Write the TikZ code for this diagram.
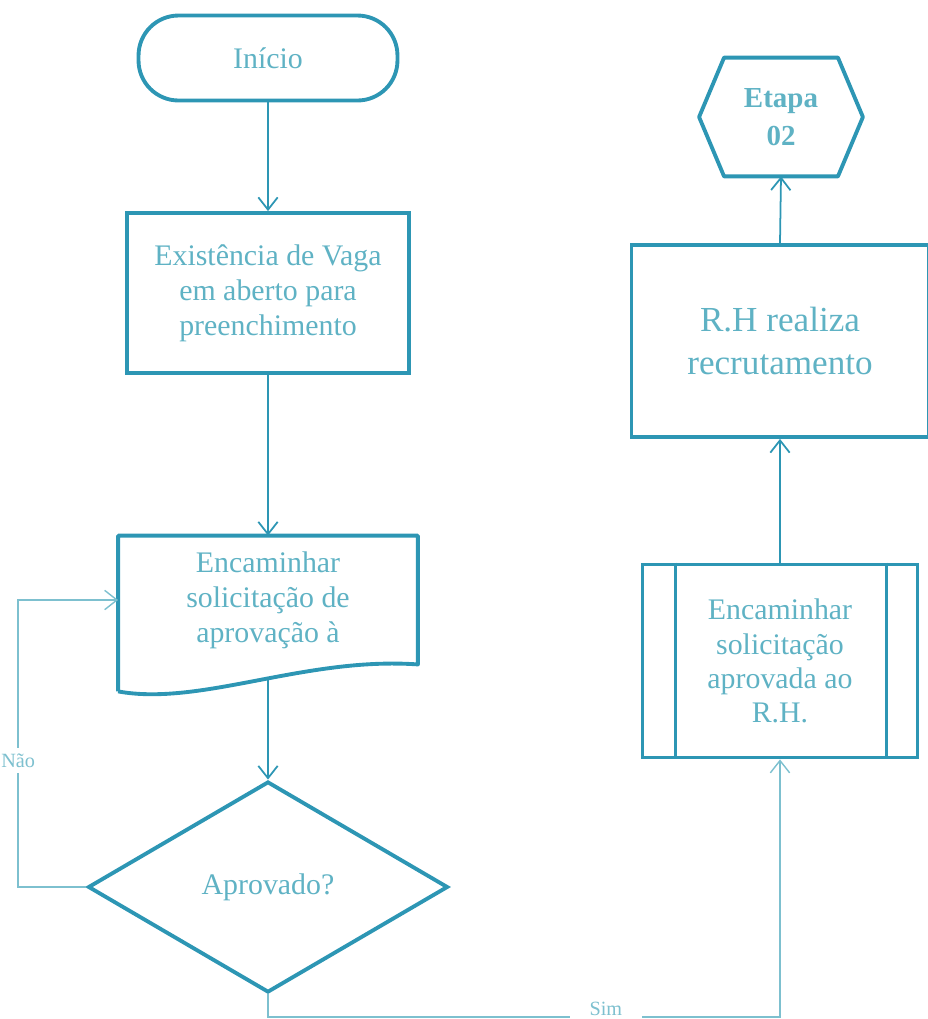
\documentclass[tikz,border=0pt]{standalone}
\usepackage{fontspec}
\setmainfont{Liberation Serif}
\usetikzlibrary{arrows.meta, positioning, shapes.geometric}
\definecolor{fluxo}{RGB}{45,150,180}
\definecolor{fluxotexto}{RGB}{95,178,196}
\definecolor{fluxoclaro}{RGB}{125,192,207}

\begin{document}
\begin{tikzpicture}[x=0.02cm, y=-0.02cm,
		caixa/.style={draw=fluxo, line width=2.2pt, text=fluxotexto, align=center, inner sep=0pt, font=\fontsize{17}{20}\selectfont},
		borda/.style={fluxo, line width=2.2pt, line join=round},
		seta/.style={fluxo, line width=1pt, -{Straight Barb[length=7pt,width=11pt]}},
		retorno/.style={fluxoclaro, line width=0.8pt, -{Straight Barb[length=7pt,width=11pt]}},
		rotulo/.style={text=fluxoclaro, fill=white, inner xsep=0.4cm, font=\fontsize{11.5}{13}\selectfont}]
		\useasboundingbox (0,0) rectangle (928,1019);
		\node [caixa, rounded corners=0.8cm, minimum width=5.18cm, minimum height=1.7cm] (inicio) at (268,58) {Início};
		\node [caixa, minimum width=5.64cm, minimum height=3.2cm] (vaga) at (268,293) {Existência de Vaga\\em aberto para\\preenchimento};
		\node [caixa, draw=none, minimum width=5.92cm, minimum height=2.5cm] (doc) at (268,600) {Encaminhar\\solicitação de\\aprovação à};
		\draw [borda] ([yshift=-0.54cm]doc.south west) -- (doc.north west) -- (doc.north east) -- (doc.south east)
			.. controls +(-113,-8) and +(83,15) .. ([yshift=-0.54cm]doc.south west);
		\node [caixa, diamond, minimum width=7.2cm, minimum height=4.22cm] (aprov) at (268,887) {Aprovado?};
		\node [caixa, draw=none, minimum width=3.2cm, minimum height=2.3cm, font=\bfseries\fontsize{16.5}{21.5}\selectfont] (etapa) at (781,117) {Etapa\\02};
		\draw [borda] (etapa.west) -- ([xshift=0.5cm]etapa.north west) -- ([xshift=-0.5cm]etapa.north east)
			-- (etapa.east) -- ([xshift=-0.5cm]etapa.south east) -- ([xshift=0.5cm]etapa.south west) -- cycle;
		\node [caixa, minimum width=5.94cm, minimum height=3.84cm, font=\fontsize{20}{24.4}\selectfont] (rh) at (780,341) {R.H realiza\\recrutamento};
		\node [caixa, minimum width=5.5cm, minimum height=3.86cm, font=\fontsize{17}{19.5}\selectfont] (enc) at (780,661) {Encaminhar\\solicitação\\aprovada ao\\R.H.};
		\draw [borda, line width=1.6pt] ([xshift=0.7cm]enc.north west) -- ([xshift=0.7cm]enc.south west);
		\draw [borda, line width=1.6pt] ([xshift=-0.66cm]enc.north east) -- ([xshift=-0.66cm]enc.south east);
		\coordinate (docb) at ([yshift=-0.3cm]doc.south);
		\coordinate (volta) at ([xshift=-1.36cm]aprov.west);
		\coordinate (simc) at ([yshift=-5.15cm]enc.south);
		\draw [seta] (inicio.south) -- (vaga.north);
		\draw [seta] (vaga.south) -- (doc.north);
		\draw [seta] (docb) -- (aprov.north);
		\draw [retorno] (aprov.west) -- (volta) |- node [rotulo, pos=0.22, inner xsep=1pt] {Não} (doc.west);
		\draw [retorno] (aprov.south) |- node [rotulo, pos=0.83, yshift=0.16cm] {Sim} (simc) -- (enc.south);
		\draw [seta] (enc.north) -- (rh.south);
		\draw [seta] (rh.north) -- (etapa.south);
	\end{tikzpicture}
\end{document}
